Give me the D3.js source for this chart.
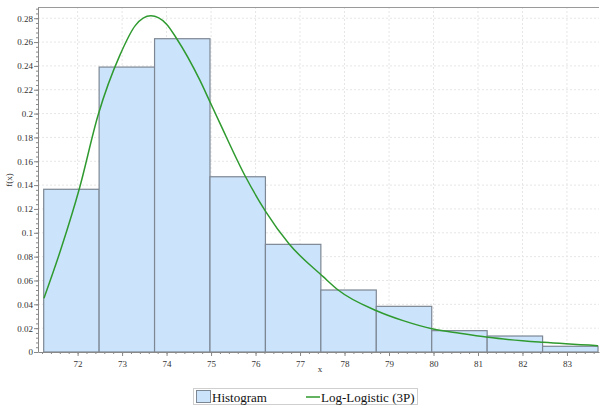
<!DOCTYPE html>
<html>
<head>
<meta charset="utf-8">
<script src="https://cdn.jsdelivr.net/npm/d3@7"></script>
<style>
  body { margin: 0; background: #fff; }
  svg { display: block; font-family: "Liberation Serif", "DejaVu Serif", serif; }
  .tick text { font-family: "Liberation Serif", serif; }
</style>
</head>
<body>
<svg id="chart" width="601" height="407"></svg>
<script>
// histogram bins (edges) and densities
const binEdges = [71.238, 72.484, 73.73, 74.976, 76.222, 77.468, 78.714, 79.96, 81.206, 82.452, 83.698];
const binDensity = [0.1365, 0.239, 0.2628, 0.147, 0.0903, 0.052, 0.0383, 0.0179, 0.0134, 0.0048];

// fitted curve, points
const curveX = [71.243, 71.64, 72.036, 72.463, 72.951, 73.3, 73.647, 74.0, 74.225, 74.748, 74.973, 75.198, 75.775, 76.225, 76.755, 77.519, 77.856, 78.733, 79.317, 79.991, 80.591, 81.227, 82.463, 83.699];
const curveY = [0.045, 0.088, 0.1365, 0.199, 0.249, 0.274, 0.282, 0.275, 0.263, 0.228, 0.21, 0.192, 0.147, 0.118, 0.0906, 0.0632, 0.052, 0.0344, 0.0263, 0.0193, 0.0157, 0.0123, 0.0081, 0.0053];

const xTicks = [72, 73, 74, 75, 76, 77, 78, 79, 80, 81, 82, 83];
const yTicks = [0, 0.02, 0.04, 0.06, 0.08, 0.1, 0.12, 0.14, 0.16, 0.18, 0.2, 0.22, 0.24, 0.26, 0.28];

const margin = {top: 7, right: 2, bottom: 55, left: 38};
const width = 601 - margin.left - margin.right;
const height = 407 - margin.top - margin.bottom;

const svg = d3.select("#chart");
const g = svg.append("g").attr("transform", `translate(${margin.left},${margin.top})`);

const x = d3.scaleLinear().domain([71.11, 83.72]).range([0, width]);
const y = d3.scaleLinear().domain([0, 0.2894]).range([height, 0]);

// grid
g.append("g").selectAll("line").data(xTicks).join("line")
    .attr("x1", d => x(d)).attr("x2", d => x(d))
    .attr("y1", 0).attr("y2", height)
    .attr("stroke", "#e6e6e6").attr("stroke-dasharray", "2,2");
g.append("g").selectAll("line").data(yTicks.slice(1)).join("line")
    .attr("x1", 0).attr("x2", width)
    .attr("y1", d => y(d)).attr("y2", d => y(d))
    .attr("stroke", "#e6e6e6").attr("stroke-dasharray", "2,2");

// top border
g.append("line").attr("x1", 0).attr("x2", width).attr("y1", 0.5).attr("y2", 0.5)
    .attr("stroke", "#9a9a9a");

// bars
const bins = binDensity.map((v, i) => ({x0: binEdges[i], x1: binEdges[i + 1], v}));
g.append("g").selectAll("rect").data(bins).join("rect")
    .attr("x", d => x(d.x0))
    .attr("y", d => y(d.v))
    .attr("width", d => x(d.x1) - x(d.x0))
    .attr("height", d => y(0) - y(d.v))
    .attr("fill", "#cce4fb")
    .attr("stroke", "#7d8794")
    .attr("stroke-width", 1.2);

// curve
const line = d3.line()
    .x((d, i) => x(curveX[i]))
    .y(d => y(d))
    .curve(d3.curveMonotoneX);
g.append("path").datum(curveY)
    .attr("d", line)
    .attr("fill", "none")
    .attr("stroke", "#2f9a2f")
    .attr("stroke-width", 1.5);

// axes
const xMinor = d3.range(71.2, 83.71, 0.2);
g.append("g").attr("transform", `translate(0,${height})`)
    .call(d3.axisBottom(x).tickValues(xMinor).tickSize(2).tickFormat(""))
    .call(a => a.select(".domain").remove())
    .selectAll("line").attr("stroke", "#888");
const xAxis = g.append("g").attr("transform", `translate(0,${height})`)
    .call(d3.axisBottom(x).tickValues(xTicks).tickSize(4).tickSizeOuter(0).tickFormat(d3.format("d")));
xAxis.select(".domain").attr("stroke", "#888");
xAxis.selectAll("line").attr("stroke", "#888");
xAxis.selectAll("text").attr("fill", "#333")
    .style("font-family", '"Liberation Serif", serif').style("font-size", "9px").attr("dy", "0.9em");

const yMinor = d3.range(0, 0.2894, 0.004);
g.append("g")
    .call(d3.axisLeft(y).tickValues(yMinor).tickSize(2).tickFormat(""))
    .call(a => a.select(".domain").remove())
    .selectAll("line").attr("stroke", "#888");
const yAxis = g.append("g")
    .call(d3.axisLeft(y).tickValues(yTicks).tickSize(4).tickSizeOuter(0).tickFormat(d => d3.format("~g")(+d.toFixed(2))));
yAxis.select(".domain").attr("stroke", "#888");
yAxis.selectAll("line").attr("stroke", "#888");
yAxis.selectAll("text").attr("fill", "#333")
    .style("font-family", '"Liberation Serif", serif').style("font-size", "9px").attr("x", -5);

// axis titles
svg.append("text").attr("x", 320).attr("y", 372).attr("text-anchor", "middle")
    .style("font-size", "9px").attr("fill", "#333").text("x");
svg.append("text").attr("transform", "translate(12,180) rotate(-90)").attr("text-anchor", "middle")
    .style("font-size", "9px").attr("fill", "#333").text("f(x)");

// legend
const leg = svg.append("g");
leg.append("rect").attr("x", 193.5).attr("y", 388.5).attr("width", 224).attr("height", 16)
    .attr("fill", "#fff").attr("stroke", "#cfcfcf");
leg.append("rect").attr("x", 196.5).attr("y", 390.5).attr("width", 14).attr("height", 12)
    .attr("fill", "#cce4fb").attr("stroke", "#7d8794");
leg.append("text").attr("x", 212).attr("y", 401.5).style("font-size", "13px").attr("fill", "#111")
    .text("Histogram");
leg.append("line").attr("x1", 306).attr("x2", 320).attr("y1", 397).attr("y2", 397)
    .attr("stroke", "#2f9a2f").attr("stroke-width", 1.5);
leg.append("text").attr("x", 321).attr("y", 401.5).style("font-size", "13px").attr("fill", "#111")
    .text("Log-Logistic (3P)");
</script>
</body>
</html>
